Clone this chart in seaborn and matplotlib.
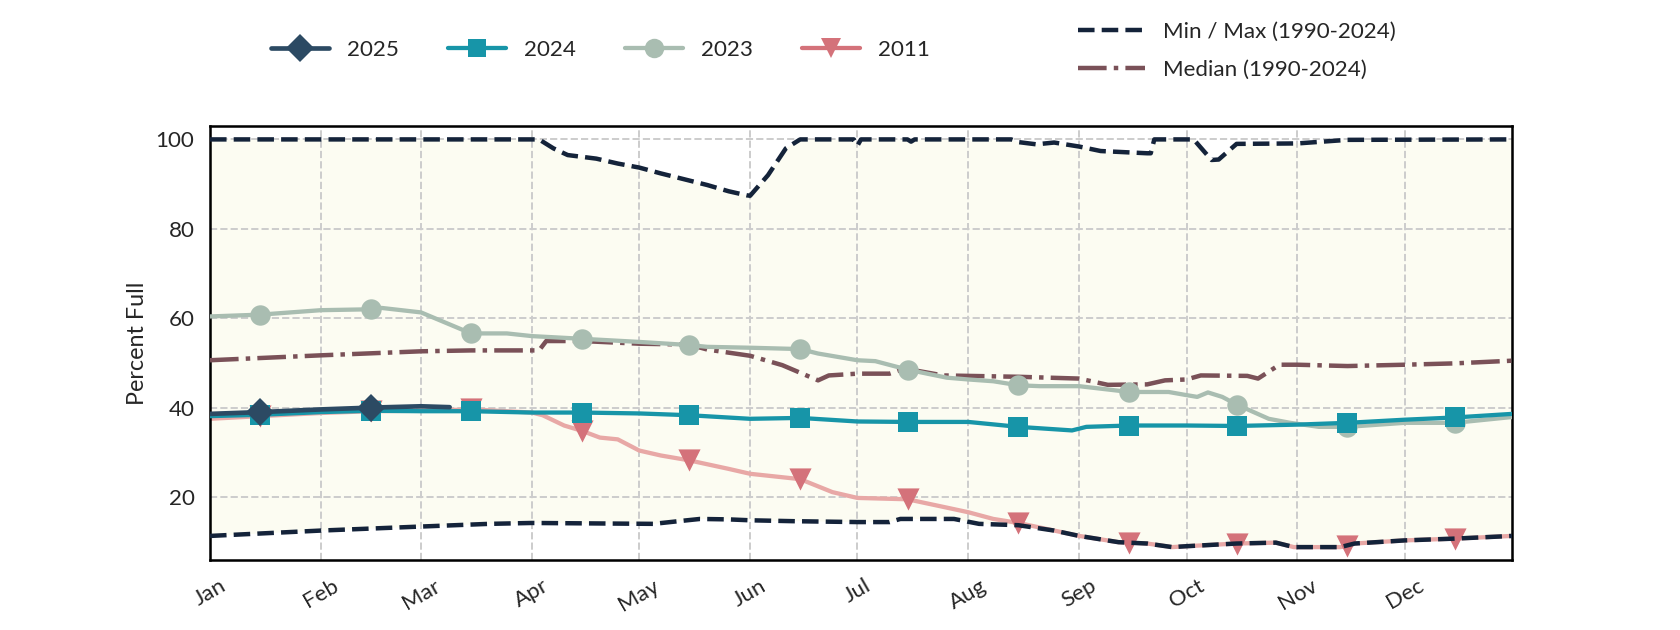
import pandas as pd
import matplotlib
matplotlib.use("Agg")
import matplotlib.pyplot as plt
import matplotlib.dates as mdates
from matplotlib.lines import Line2D
import seaborn as sns

# values (percent full), dates as MM-DD
max_dates = ["01-01", "04-03", "04-07", "04-11", "04-19", "04-25", "05-01", "05-07", "05-14",
             "05-20", "05-26", "05-31", "06-01", "06-06", "06-11", "06-15", "06-30", "07-01",
             "07-02", "07-15", "07-16", "07-17", "08-13", "08-15", "08-20", "08-25", "09-01",
             "09-07", "09-20", "09-21", "09-22", "10-03", "10-08", "10-10", "10-15", "11-01",
             "11-15", "12-31"]
max_vals = [100, 100, 98.0, 96.5, 95.7, 94.6, 93.7, 92.4, 91.0,
            89.8, 88.4, 87.5, 87.4, 92.0, 98.0, 100, 100, 98.6,
            100, 100, 99.5, 100, 100, 99.4, 98.9, 99.3, 98.4,
            97.4, 96.9, 96.9, 100, 100, 95.4, 95.5, 99.0, 99.1,
            99.9, 100]

min_dates = ["01-01", "02-01", "03-01", "03-20", "04-01", "05-05", "05-12", "05-18", "05-26",
             "06-01", "06-13", "07-01", "07-10", "07-13", "07-28", "08-04", "08-15", "08-25",
             "09-01", "09-12", "09-20", "09-27", "10-01", "10-15", "10-26", "10-31", "11-13",
             "11-17", "12-01", "12-15", "12-31"]
min_vals = [11.3, 12.5, 13.4, 14.0, 14.2, 14.0, 14.6, 15.1, 15.0,
            14.8, 14.6, 14.4, 14.4, 15.1, 15.1, 14.0, 13.7, 12.5,
            11.3, 9.9, 9.6, 8.8, 9.0, 9.6, 9.8, 8.8, 8.8,
            9.6, 10.3, 10.7, 11.3]

med_dates = ["01-01", "02-01", "03-01", "03-15", "04-01", "04-03", "04-05", "04-15", "05-01",
             "05-15", "05-20", "06-01", "06-10", "06-15", "06-20", "06-23", "07-01", "07-10",
             "07-13", "07-18", "07-25", "08-01", "08-15", "09-01", "09-09", "09-20", "09-25",
             "10-01", "10-05", "10-18", "10-21", "10-27", "11-01", "11-15", "12-01", "12-15",
             "12-31"]
med_vals = [50.6, 51.7, 52.6, 52.8, 52.8, 52.8, 54.9, 54.9, 54.3,
            54.1, 53.0, 51.6, 49.5, 47.8, 46.1, 47.2, 47.6, 47.6,
            48.4, 48.2, 47.2, 47.1, 46.9, 46.5, 45.1, 45.2, 46.1,
            46.3, 47.2, 47.1, 46.5, 49.6, 49.6, 49.3, 49.6, 49.9,
            50.5]

y2023_dates = ["01-01", "01-15", "02-01", "02-15", "02-18", "03-01", "03-15", "03-25", "04-01",
               "04-15", "05-01", "05-15", "05-20", "06-01", "06-15", "06-20", "07-01", "07-06",
               "07-15", "07-26", "08-01", "08-08", "08-15", "08-21", "09-01", "09-15", "09-26",
               "10-01", "10-04", "10-07", "10-11", "10-15", "10-24", "10-30", "11-07", "11-15",
               "12-01", "12-15", "12-31"]
y2023_vals = [60.4, 60.8, 61.8, 62.0, 62.3, 61.3, 56.6, 56.6, 56.0,
              55.4, 54.7, 54.0, 53.6, 53.4, 53.1, 52.1, 50.6, 50.4,
              48.5, 46.7, 46.3, 45.9, 45.0, 44.8, 44.8, 43.5, 43.5,
              42.8, 42.4, 43.4, 42.4, 40.7, 37.5, 36.6, 35.7, 35.7,
              36.6, 36.6, 37.9]

y2024_dates = ["01-01", "01-15", "02-01", "02-15", "03-01", "03-15", "04-01", "04-15", "05-01",
               "05-15", "06-01", "06-15", "07-01", "07-15", "08-01", "08-15", "08-30", "09-03",
               "09-15", "10-01", "10-15", "11-01", "11-15", "12-01", "12-15", "12-31"]
y2024_vals = [38.1, 38.4, 39.0, 39.3, 39.2, 39.2, 38.9, 38.9, 38.7,
              38.3, 37.5, 37.7, 36.9, 36.8, 36.8, 35.7, 34.9, 35.7,
              36.0, 36.0, 35.9, 36.2, 36.6, 37.3, 37.8, 38.6]

y2011_dates = ["01-01", "01-15", "02-01", "02-15", "03-01", "03-15", "04-01", "04-04", "04-10",
               "04-15", "04-20", "04-25", "05-01", "05-07", "05-15", "05-26", "06-01", "06-15",
               "06-24", "07-01", "07-15", "07-25", "08-01", "08-08", "08-15", "08-25", "09-01",
               "09-12", "09-15", "09-20", "09-27", "10-01", "10-15", "10-26", "10-31", "11-13",
               "11-15", "11-17", "12-01", "12-15", "12-31"]
y2011_vals = [37.5, 38.1, 38.8, 39.2, 39.3, 39.6, 38.9, 38.3, 36.0,
              34.8, 33.3, 32.9, 30.4, 29.3, 28.2, 26.3, 25.2, 24.0,
              21.1, 19.8, 19.5, 17.8, 16.6, 15.1, 14.2, 12.5, 11.3,
              9.9, 9.8, 9.6, 8.8, 9.0, 9.6, 9.8, 8.8, 8.8,
              9.0, 9.6, 10.3, 10.7, 11.3]

y2025_dates = ["01-01", "01-15", "02-01", "02-15", "03-01", "03-09"]
y2025_vals = [38.6, 39.0, 39.6, 40.0, 40.3, 40.1]

C_MINMAX = "#14233a"
C_MED = "#7a5158"
C_2025 = "#2c4a63"
C_2024 = "#1795a8"
C_2023 = "#a9bdb1"
C_2011 = "#d4727a"
C_2011_LINE = "#e8a8a6"


def to_df(dates, vals):
    return pd.DataFrame({"date": pd.to_datetime(["2025-" + d for d in dates]), "pct": vals})


def mid_month(dates):
    return [i for i, d in enumerate(dates) if d.endswith("-15")]


sns.set_style("white")
plt.rcParams["font.family"] = ["Lato", "DejaVu Sans"]

fig = plt.figure(figsize=(12, 4.5), dpi=140)
ax = fig.add_axes([0.125, 0.111, 0.775, 0.689])

df_max = to_df(max_dates, max_vals)
df_min = to_df(min_dates, min_vals)

# cream band between historical min and max
band_x = list(df_max["date"]) + list(df_min["date"][::-1])
band_y = list(df_max["pct"]) + list(df_min["pct"][::-1])
ax.fill(band_x, band_y, color="#fcfcf2", zorder=0, lw=0)

sns.lineplot(data=to_df(y2011_dates, y2011_vals), x="date", y="pct", ax=ax,
             color=C_2011_LINE, lw=2.2, zorder=2)
sns.scatterplot(data=to_df(y2011_dates, y2011_vals).iloc[mid_month(y2011_dates)],
                x="date", y="pct", ax=ax, color=C_2011, marker="v", s=130,
                linewidth=0, zorder=2.5)

sns.lineplot(data=df_max, x="date", y="pct", ax=ax, color=C_MINMAX, lw=2.3, ls="--", zorder=3)
sns.lineplot(data=df_min, x="date", y="pct", ax=ax, color=C_MINMAX, lw=2.3, ls="--", zorder=3)
sns.lineplot(data=to_df(med_dates, med_vals), x="date", y="pct", ax=ax,
             color=C_MED, lw=2.3, ls="-.", zorder=3)

sns.lineplot(data=to_df(y2023_dates, y2023_vals), x="date", y="pct", ax=ax,
             color=C_2023, lw=2.2, marker="o", markersize=10.5, markeredgewidth=0,
             markevery=mid_month(y2023_dates), zorder=4)
sns.lineplot(data=to_df(y2024_dates, y2024_vals), x="date", y="pct", ax=ax,
             color=C_2024, lw=2.2, marker="s", markersize=10, markeredgewidth=0,
             markevery=mid_month(y2024_dates), zorder=5)
sns.lineplot(data=to_df(y2025_dates, y2025_vals), x="date", y="pct", ax=ax,
             color=C_2025, lw=2.4, marker="D", markersize=10.5, markeredgewidth=0,
             markevery=mid_month(y2025_dates), zorder=6)

ax.set_xlim(pd.Timestamp("2025-01-01"), pd.Timestamp("2025-12-31"))
ax.set_ylim(5.9, 103)
ax.set_yticks([20, 40, 60, 80, 100])
ax.xaxis.set_major_locator(mdates.MonthLocator())
ax.xaxis.set_major_formatter(mdates.DateFormatter("%b"))
ax.set_xlabel("")
ax.set_ylabel("Percent Full", fontsize=12)
ax.grid(True, ls="--", color="#cccccc", lw=1)
ax.set_axisbelow(True)
ax.tick_params(axis="both", length=0, labelsize=11.5, pad=8)
plt.setp(ax.get_xticklabels(), rotation=30, ha="center")
for s in ax.spines.values():
    s.set_color("black")
    s.set_linewidth(1.3)

years = [
    Line2D([], [], color=C_2025, lw=2.4, marker="D", markersize=10, markeredgewidth=0, label="2025"),
    Line2D([], [], color=C_2024, lw=2.2, marker="s", markersize=9.5, markeredgewidth=0, label="2024"),
    Line2D([], [], color=C_2023, lw=2.2, marker="o", markersize=10, markeredgewidth=0, label="2023"),
    Line2D([], [], color=C_2011, lw=2.2, marker="v", markersize=10.5, markeredgewidth=0, label="2011"),
]
stats = [
    Line2D([], [], color=C_MINMAX, lw=2.3, ls="--", label="Min / Max (1990-2024)"),
    Line2D([], [], color=C_MED, lw=2.3, ls="-.", label="Median (1990-2024)"),
]
fig.legend(handles=years, loc="center", bbox_to_anchor=(0.3575, 0.921), ncol=4,
           frameon=False, fontsize=11.5, handlelength=2.6, columnspacing=2.2)
fig.legend(handles=stats, loc="center", bbox_to_anchor=(0.736, 0.919), ncol=1,
           frameon=False, fontsize=11.5, handlelength=3.0, labelspacing=0.8)

fig.savefig("out.png", dpi=140)
